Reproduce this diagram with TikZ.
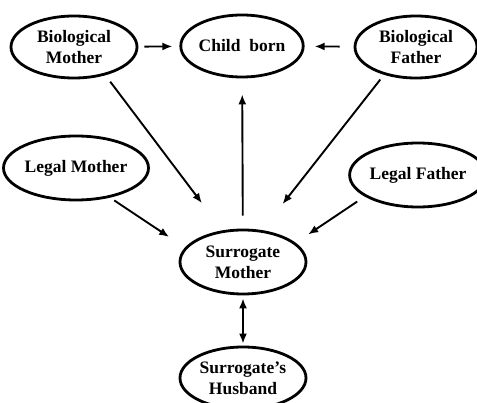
\documentclass[tikz,border=0pt]{standalone}
\usepackage{fontspec}
\setmainfont{Liberation Serif}
\usetikzlibrary{shapes.geometric,arrows.meta}
\begin{document}
\begin{tikzpicture}[x=1pt,y=-1pt,
  ell/.style={ellipse, draw, line width=2.8pt, inner sep=0pt, align=center,
    font=\fontsize{17.5}{21}\selectfont\bfseries},
  tip/.style={Latex[length=10pt,width=8pt]},
  conn/.style={line width=1.9pt, -{Latex[length=10pt,width=8pt]}}]
\useasboundingbox (0,0) rectangle (477,403);
\node[ell, minimum width=126pt, minimum height=62pt] (bm) at (74,47) {Biological\\Mother};
\node[ell, minimum width=100pt, minimum height=62pt] (cb) at (242,46) {Child\ \ born};
\node[ell, minimum width=122pt, minimum height=62pt] (bf) at (416,47) {Biological\\Father};
\node[ell, minimum width=128pt, minimum height=64pt] (lm) at (76,168) {Legal Mother};
\node[ell, minimum width=120pt, minimum height=64pt] (lf) at (418,175) {Legal Father};
\node[ell, minimum width=126pt, minimum height=64pt] (sm) at (243,262) {Surrogate\\Mother};
\node[ell, minimum width=126pt, minimum height=62pt] (sh) at (243,378) {Surrogate’s\\Husband};
\draw[conn, shorten <=6pt, shorten >=7pt] (bm) -- (cb);
\draw[conn, shorten <=14pt, shorten >=10pt] (bf) -- (cb);
\draw[conn, shorten <=8pt, shorten >=34pt] (bm.-42) -- (sm.123);
\draw[conn, shorten <=6pt, shorten >=33pt] (bf.221) -- (sm.59);
\draw[conn, shorten <=5pt, shorten >=19pt] (lm.-41) -- (sm.166);
\draw[conn, shorten <=9pt, shorten >=15pt] (lf.202) -- (sm.20);
\draw[conn, shorten <=13pt, shorten >=16pt] (sm) -- (cb);
\draw[line width=1.9pt, {Latex[length=10pt,width=8pt]}-{Latex[length=10pt,width=8pt]}, shorten <=3pt, shorten >=2pt] (sm) -- (sh);
\end{tikzpicture}
\end{document}
